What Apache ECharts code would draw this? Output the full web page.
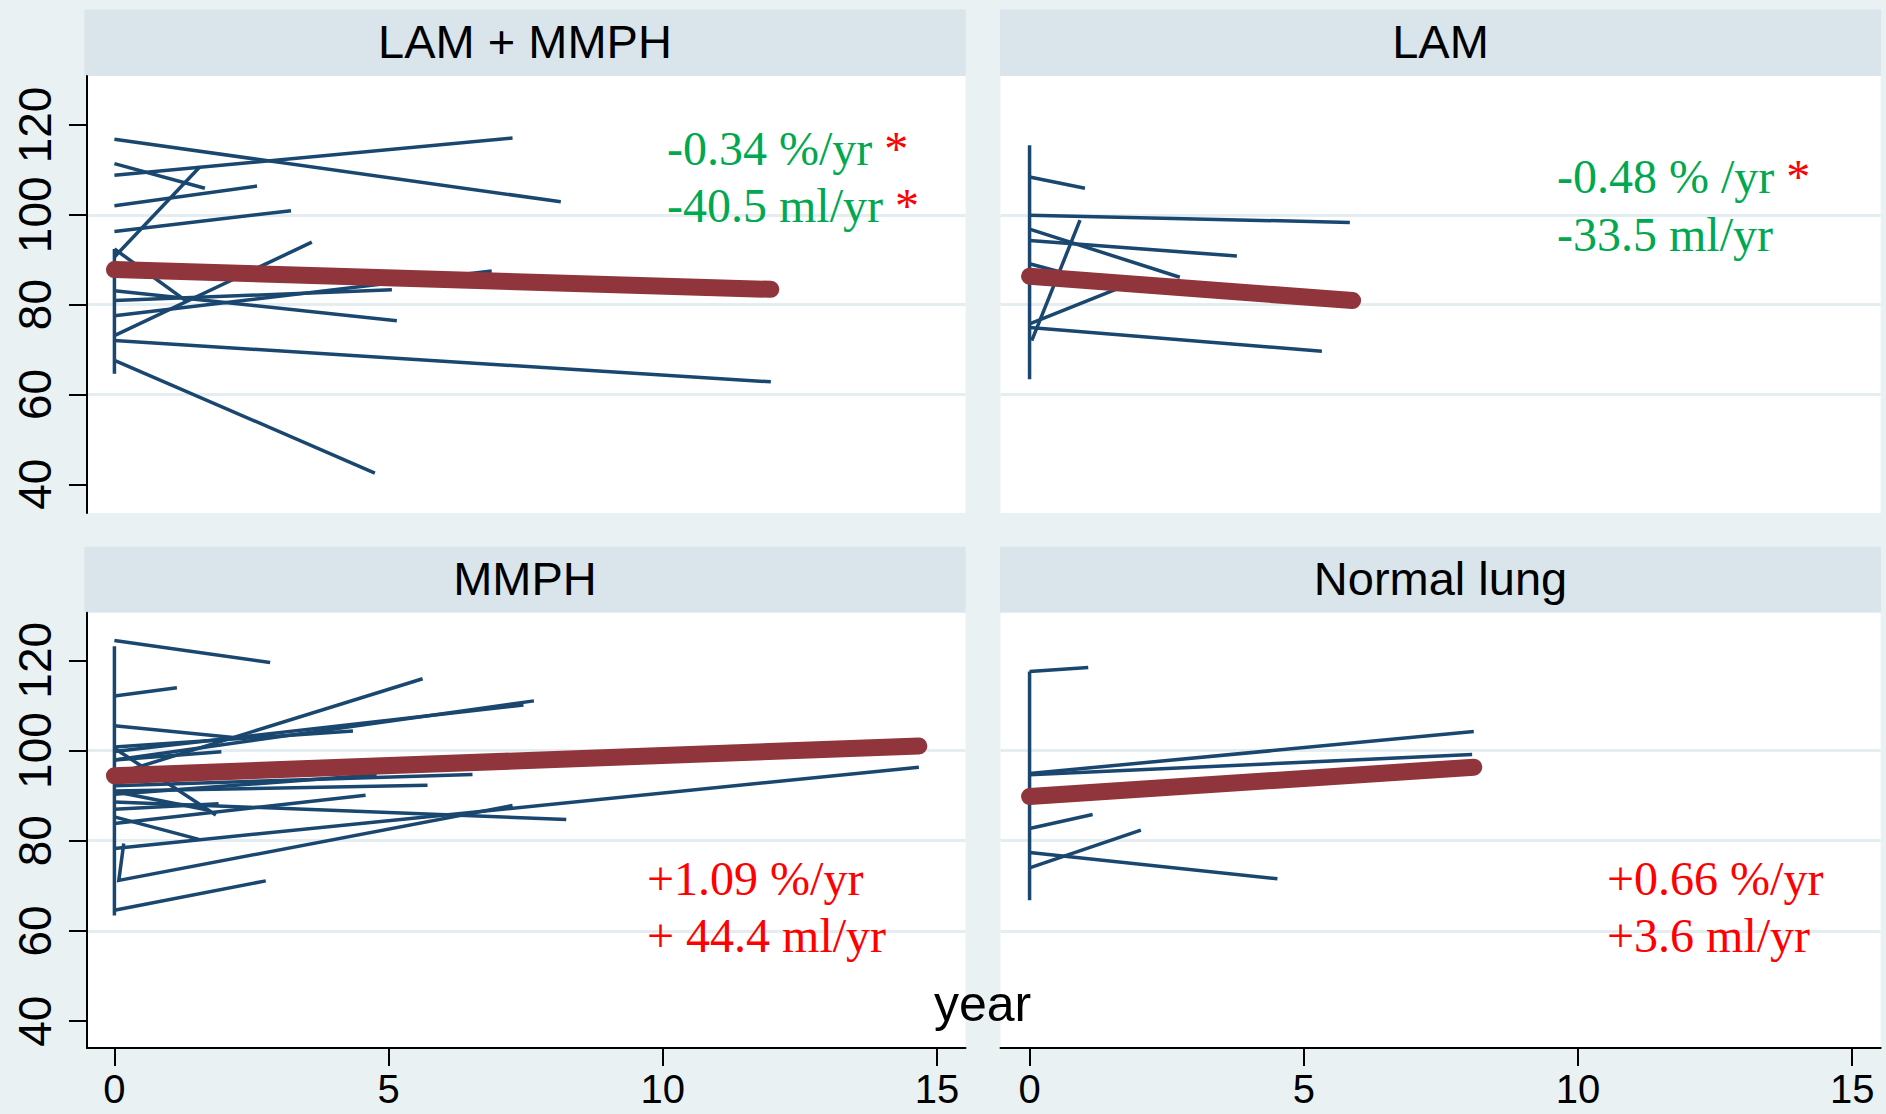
<!DOCTYPE html>
<html>
<head>
<meta charset="utf-8">
<title>% predicted FEV1 by year</title>
<script src="https://cdn.jsdelivr.net/npm/echarts@6/dist/echarts.min.js"></script>
<style>
html, body { margin: 0; padding: 0; background: #e9f1f3; }
#main { width: 1886px; height: 1114px; }
</style>
</head>
<body>
<div id="main"></div>
<script>
// panel headers and axis ticks
var panelTitles = ['LAM + MMPH', 'LAM', 'MMPH', 'Normal lung'];
var xTickValues = [0, 5, 10, 15];
var yTickValues = [40, 60, 80, 100, 120];
var xAxisTitle = 'year';

// each patient: [year, value] points
var lamMmphPatients = [
    [[0, 116.8], [8.14, 102.9]],
    [[0, 108.8], [7.26, 117.1]],
    [[0, 111.4], [1.65, 105.9]],
    [[0, 102.0], [2.6, 106.4]],
    [[0, 96.3], [3.22, 100.9]],
    [[0, 90.6], [1.56, 110.7]],
    [[0, 92.4], [1.3, 80.9]],
    [[0, 83.1], [5.15, 76.4]],
    [[0, 80.9], [5.06, 83.3]],
    [[0, 77.5], [6.88, 87.5]],
    [[0, 73.1], [3.6, 93.9]],
    [[0, 72.0], [11.97, 62.8]],
    [[0, 67.6], [4.75, 42.5]],
    [[0, 92.4], [0, 64.6]]
];
var lamPatients = [
    [[0, 108.4], [1.01, 105.9]],
    [[0, 99.9], [5.84, 98.3]],
    [[0, 96.8], [2.74, 86.1]],
    [[0, 94.3], [3.78, 90.8]],
    [[0.04, 72.0], [0.92, 98.8]],
    [[0, 75.7], [1.8, 84.5]],
    [[0, 89.1], [1.0, 85.8]],
    [[0, 74.9], [5.33, 69.6]],
    [[0, 115.5], [0, 63.4]]
];
var mmphPatients = [
    [[0, 124.4], [2.84, 119.5]],
    [[0, 112.1], [1.14, 113.9]],
    [[0, 105.5], [2.4, 102.6]],
    [[0, 94.7], [5.62, 115.9]],
    [[0, 100.8], [4.35, 104.3]],
    [[0, 99.8], [7.46, 110.1]],
    [[0, 97.9], [7.65, 111.0]],
    [[0, 97.9], [1.95, 99.7]],
    [[0, 100.5], [1.85, 85.7]],
    [[0, 92.2], [6.53, 94.7]],
    [[0, 91.0], [5.71, 92.3]],
    [[0, 90.3], [4.78, 94.6]],
    [[0, 90.9], [1.7, 86.8]],
    [[0, 88.6], [8.24, 84.7]],
    [[0, 87.0], [1.9, 88.2]],
    [[0, 85.3], [1.54, 80.3]],
    [[0, 83.8], [4.58, 90.1]],
    [[0, 78.3], [14.67, 96.3]],
    [[0.17, 79.4], [0.08, 71.2], [7.26, 87.8]],
    [[0, 64.6], [2.76, 71.1]],
    [[0, 123.1], [0, 63.4]]
];
var normalPatients = [
    [[0, 117.5], [1.07, 118.4]],
    [[0, 94.9], [8.1, 104.2]],
    [[0, 94.6], [8.07, 99.1]],
    [[0, 82.7], [1.15, 85.8]],
    [[0, 74.0], [2.03, 82.35]],
    [[0, 77.4], [4.52, 71.55]],
    [[0, 117.5], [0, 66.8]]
];

// fitted group trend lines
var lamMmphMean = [[0, 87.8], [11.97, 83.4]];
var lamMean = [[0, 86.3], [5.89, 80.9]];
var mmphMean = [[0, 94.4], [14.67, 101.0]];
var normalMean = [[0, 89.8], [8.1, 96.3]];

// slope annotations: [text, star?]
var lamMmphRates = [['-0.34 %/yr', true], ['-40.5 ml/yr', true]];
var lamRates = [['-0.48 % /yr', true], ['-33.5 ml/yr', false]];
var mmphRates = [['+1.09 %/yr', false], ['+ 44.4 ml/yr', false]];
var normalRates = [['+0.66 %/yr', false], ['+3.6 ml/yr', false]];

var navy = '#1a476f';
var maroon = '#90353b';
var green = '#00a84f';
var red = '#ff0000';
var headerBg = '#d9e5eb';
var gridColor = '#e4edf0';
var fontSans = '"Liberation Sans", Arial, sans-serif';
var fontNarrow = '"Liberation Sans Narrow", "Arial Narrow", "Liberation Sans", sans-serif';
var fontSerif = '"Liberation Serif", "Times New Roman", serif';

var panels = [
    {patients: lamMmphPatients, mean: lamMmphMean, rates: lamMmphRates, rateColor: green,
     grid: {left: 87, top: 76, width: 878.5, height: 437}, xMin: -0.5, yMin: 33.6, yMax: 130.9,
     header: [84.4, 9.5, 881.2, 66.5], titleY: 41, rateX: 667, rateY: [148, 205], left: true, bottom: false},
    {patients: lamPatients, mean: lamMean, rates: lamRates, rateColor: green,
     grid: {left: 1000.5, top: 76, width: 880.2, height: 437}, xMin: -0.53, yMin: 33.6, yMax: 130.9,
     header: [1000, 9.5, 881, 66.5], titleY: 41, rateX: 1557, rateY: [176, 234], left: false, bottom: false},
    {patients: mmphPatients, mean: mmphMean, rates: mmphRates, rateColor: red,
     grid: {left: 87, top: 612.7, width: 878.5, height: 435.3}, xMin: -0.5, yMin: 34.05, yMax: 130.55,
     header: [84.4, 546.8, 881.2, 65.9], titleY: 578, rateX: 647, rateY: [878, 935], left: true, bottom: true},
    {patients: normalPatients, mean: normalMean, rates: normalRates, rateColor: red,
     grid: {left: 1000.5, top: 612.7, width: 880.2, height: 435.3}, xMin: -0.53, yMin: 34.05, yMax: 130.55,
     header: [1000, 546.8, 881, 65.9], titleY: 578, rateX: 1607, rateY: [878, 935], left: false, bottom: true}
];

var grids = [], xAxes = [], yAxes = [], series = [], graphics = [];

panels.forEach(function (p, i) {
    grids.push({
        left: p.grid.left, top: p.grid.top, width: p.grid.width, height: p.grid.height,
        show: true, backgroundColor: '#ffffff', borderWidth: 0, containLabel: false
    });
    xAxes.push({
        gridIndex: i, type: 'value', min: p.xMin, max: 15.52,
        axisLine: {show: p.bottom, onZero: false, lineStyle: {color: '#000', width: 2}},
        axisTick: {show: p.bottom, length: 18, customValues: xTickValues, lineStyle: {color: '#000', width: 2}},
        axisLabel: {show: p.bottom, customValues: xTickValues, margin: 26, color: '#000',
            fontSize: 40, lineHeight: 30, fontFamily: fontSans},
        splitLine: {show: false}
    });
    yAxes.push({
        gridIndex: i, type: 'value', min: p.yMin, max: p.yMax,
        axisLine: {show: p.left, onZero: false, lineStyle: {color: '#000', width: 2}},
        axisTick: {show: p.left, length: 18, customValues: yTickValues, lineStyle: {color: '#000', width: 2}},
        axisLabel: {show: p.left, customValues: yTickValues, rotate: 90, margin: 29, color: '#000',
            fontSize: 46, fontFamily: fontNarrow},
        splitLine: {show: true, showMinLine: false, showMaxLine: false, lineStyle: {color: gridColor, width: 3}}
    });
    series.push({
        type: 'lines', coordinateSystem: 'cartesian2d', xAxisIndex: i, yAxisIndex: i,
        polyline: true, silent: true, z: 2,
        lineStyle: {color: navy, width: 3.5, opacity: 1},
        data: p.patients.map(function (pts) { return {coords: pts}; })
    });
    series.push({
        type: 'line', xAxisIndex: i, yAxisIndex: i, data: p.mean, z: 3,
        symbol: 'none', silent: true,
        lineStyle: {color: maroon, width: 17, cap: 'round'}
    });

    // header strip and title
    graphics.push({
        type: 'rect', z: -1, silent: true,
        shape: {x: p.header[0], y: p.header[1], width: p.header[2], height: p.header[3]},
        style: {fill: headerBg}
    });
    graphics.push({
        type: 'text', silent: true,
        x: p.header[0] + p.header[2] / 2, y: p.titleY,
        style: {text: panelTitles[i], fill: '#000', fontSize: 47, fontFamily: fontSans,
            align: 'center', verticalAlign: 'middle'}
    });

    // slope annotations
    p.rates.forEach(function (r, k) {
        var txt = '{a|' + r[0] + '}' + (r[1] ? ' {b|*}' : '');
        graphics.push({
            type: 'text', silent: true, z: 10,
            x: p.rateX, y: p.rateY[k],
            style: {
                text: txt, fontSize: 48, fontFamily: fontSerif, fill: p.rateColor,
                align: 'left', verticalAlign: 'middle',
                rich: {
                    a: {fill: p.rateColor, fontSize: 48, fontFamily: fontSerif},
                    b: {fill: red, fontSize: 48, fontFamily: fontSerif}
                }
            }
        });
    });
});

graphics.push({
    type: 'text', silent: true, z: 10,
    x: 982.5, y: 1004,
    style: {text: xAxisTitle, fill: '#000', fontSize: 50, fontFamily: fontSans,
        align: 'center', verticalAlign: 'middle'}
});

var chart = echarts.init(document.getElementById('main'), null, {renderer: 'svg'});
chart.setOption({
    backgroundColor: '#e9f1f3',
    animation: false,
    grid: grids,
    xAxis: xAxes,
    yAxis: yAxes,
    series: series,
    graphic: graphics
});
</script>
</body>
</html>
